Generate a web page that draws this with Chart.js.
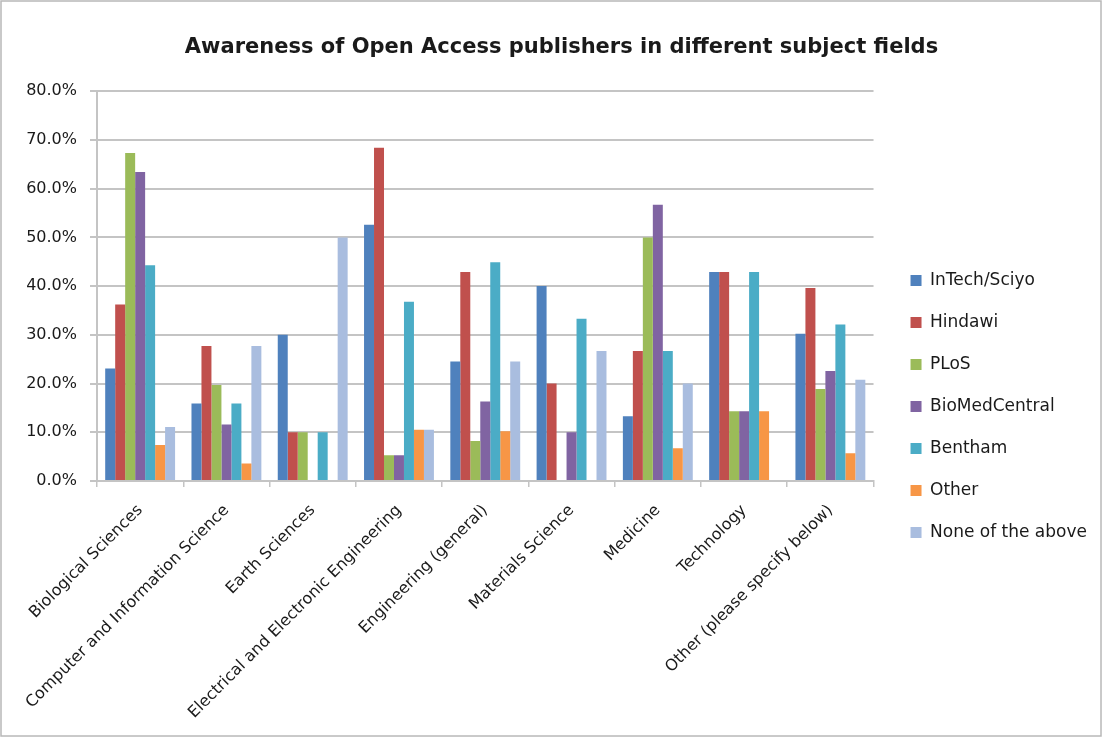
<!DOCTYPE html>
<html>
<head>
<meta charset="utf-8">
<script src="https://cdn.jsdelivr.net/npm/chart.js@4.4.1/dist/chart.umd.min.js"></script>
<style>
  html, body { margin: 0; padding: 0; background: #fff; }
  #wrap { width: 1102px; height: 737px; position: relative; }
</style>
</head>
<body>
<div id="wrap"><canvas id="c" width="1102" height="737"></canvas></div>
<script>
const categories = [
  "Biological Sciences",
  "Computer and Information Science",
  "Earth Sciences",
  "Electrical and Electronic Engineering",
  "Engineering (general)",
  "Materials Science",
  "Medicine",
  "Technology",
  "Other (please specify below)"
];
const seriesNames = ["InTech/Sciyo", "Hindawi", "PLoS", "BioMedCentral", "Bentham", "Other", "None of the above"];
const seriesColors = ["#4F81BD", "#C0504D", "#9BBB59", "#8064A2", "#4BACC6", "#F79646", "#A9BDDF"];

const inTech        = [23.1, 15.9, 30.0, 52.6, 24.5, 40.0, 13.3, 42.9, 30.2];
const hindawi       = [36.2, 27.7, 10.0, 68.4, 42.9, 20.0, 26.7, 42.9, 39.6];
const plos          = [67.3, 19.7, 10.0,  5.3,  8.2,  0.0, 50.0, 14.3, 18.9];
const bioMedCentral = [63.4, 11.6,  0.0,  5.3, 16.3, 10.0, 56.7, 14.3, 22.6];
const bentham       = [44.3, 15.9, 10.0, 36.8, 44.9, 33.3, 26.7, 42.9, 32.1];
const other         = [ 7.4,  3.6,  0.0, 10.5, 10.2,  0.0,  6.7, 14.3,  5.7];
const noneAbove     = [11.1, 27.7, 50.0, 10.5, 24.5, 26.7, 20.0,  0.0, 20.8];

const yTickMax = 80;
const yTickStep = 10;

const seriesData = [inTech, hindawi, plos, bioMedCentral, bentham, other, noneAbove];

const FONT = "'DejaVu Sans', sans-serif";
const TEXT = "#1a1a1a";
const GRID = "#c4c4c4";

const frame = {
  id: 'frame',
  afterDraw(chart) {
    const ctx = chart.ctx;
    ctx.save();
    ctx.strokeStyle = '#b8b8b8';
    ctx.lineWidth = 1.5;
    ctx.strokeRect(1, 1, chart.width - 2, chart.height - 2);
    ctx.restore();
  }
};

// nudge the legend right of the plot area and the title slightly right
const boxNudge = {
  id: 'boxNudge',
  afterLayout(chart) {
    const lg = chart.legend;
    if (lg) { lg.left += 12; lg.right += 12; }
    const tb = chart.titleBlock;
    if (tb) { tb.left += 6; tb.right += 6; }
  }
};

new Chart(document.getElementById('c'), {
  type: 'bar',
  data: {
    labels: categories,
    datasets: seriesNames.map((n, i) => ({
      label: n,
      data: seriesData[i],
      backgroundColor: seriesColors[i],
      borderWidth: 0,
      barPercentage: 1.0,
      categoryPercentage: 0.81
    }))
  },
  options: {
    responsive: false,
    animation: false,
    devicePixelRatio: 1,
    layout: { padding: { left: 26, right: 17, top: 0, bottom: 0 } },
    plugins: {
      title: {
        display: true,
        text: 'Awareness of Open Access publishers in different subject fields',
        color: TEXT,
        font: { family: FONT, size: 21, weight: 'bold', lineHeight: 1.2 },
        padding: { top: 35, bottom: 31 }
      },
      legend: {
        position: 'right',
        title: { display: true, text: ' ', font: { family: FONT, size: 10, lineHeight: 1 }, padding: 33 },
        labels: {
          color: TEXT,
          font: { family: FONT, size: 17 },
          boxWidth: 11,
          boxHeight: 11,
          padding: 25
        }
      },
      tooltip: { enabled: false }
    },
    scales: {
      x: {
        grid: { display: true, drawOnChartArea: false, drawTicks: true, tickLength: 6, color: GRID, lineWidth: 1.5 },
        border: { display: true, color: GRID, width: 2 },
        ticks: {
          color: TEXT,
          font: { family: FONT, size: 16 },
          minRotation: 45,
          maxRotation: 45,
          autoSkip: false,
          padding: 14
        },
        afterFit(scale) { scale.height = 256; }
      },
      y: {
        min: 0,
        max: yTickMax,
        grid: { color: GRID, lineWidth: 2, drawTicks: true, tickLength: 7 },
        border: { display: true, color: GRID, width: 2 },
        ticks: {
          stepSize: yTickStep,
          color: TEXT,
          font: { family: FONT, size: 16 },
          padding: 13,
          callback: v => v.toFixed(1) + '%'
        },
        afterFit(scale) { scale.width = 71; }
      }
    }
  },
  plugins: [frame, boxNudge]
});
</script>
</body>
</html>
